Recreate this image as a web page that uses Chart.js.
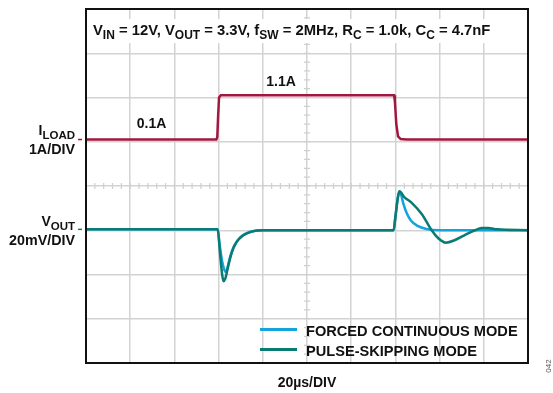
<!DOCTYPE html>
<html>
<head>
<meta charset="utf-8">
<script src="https://cdn.jsdelivr.net/npm/chart.js@4"></script>
<style>
  body { margin: 0; background: #fff; }
  canvas { display: block; }
</style>
</head>
<body>
<canvas id="scope" width="553" height="393"></canvas>
<script>
// time in divisions (20us/DIV), level in divisions from screen bottom
const loadTime = [0, 2.95, 2.97, 2.99, 3.01, 3.05, 6.97, 6.99, 7.02, 7.06, 7.12, 7.25, 10];
const loadLevel = [5.05, 5.05, 5.1, 5.6, 6.0, 6.05, 6.05, 5.9, 5.4, 5.12, 5.06, 5.05, 5.05];

const fcmTime = [0, 2.98, 3.02, 3.08, 3.13, 3.16, 3.2, 3.26, 3.35, 3.5, 3.7, 4.0, 6.96, 7.0, 7.05, 7.09, 7.13, 7.18, 7.25, 7.35, 7.5, 7.7, 8.0, 10];
const fcmLevel = [3.02, 3.02, 2.7, 2.3, 2.1, 2.06, 2.15, 2.4, 2.65, 2.85, 2.96, 3.0, 3.0, 3.3, 3.7, 3.88, 3.8, 3.6, 3.4, 3.22, 3.1, 3.03, 3.0, 3.0];

const psmTime = [0, 2.98, 3.03, 3.08, 3.11, 3.15, 3.22, 3.3, 3.4, 3.55, 3.75, 4.0, 6.96, 7.0, 7.05, 7.09, 7.2, 7.37, 7.6, 7.82, 7.97, 8.14, 8.35, 8.57, 8.8, 8.95, 9.1, 9.3, 10];
const psmLevel = [3.02, 3.02, 2.5, 2.0, 1.85, 1.9, 2.2, 2.5, 2.72, 2.88, 2.97, 3.0, 3.0, 3.3, 3.7, 3.88, 3.75, 3.62, 3.36, 3.0, 2.82, 2.72, 2.78, 2.89, 3.0, 3.05, 3.05, 3.02, 3.0];

const seriesNames = ["FORCED CONTINUOUS MODE", "PULSE-SKIPPING MODE"];
const loadColor = "#A2173F";
const fcmColor = "#12A4DB";
const psmColor = "#0A7B74";

const toPoints = (xs, ys) => xs.map((x, i) => ({ x: x, y: ys[i] }));

const BOLD = "Liberation Sans, Arial, sans-serif";

// draws text with subscripts: parts = [[text, isSub], ...]; returns width
function subText(c, parts, x, y, align, size, subSize) {
  size = size || 14;
  subSize = subSize || 11;
  let total = 0;
  parts.forEach(p => {
    c.font = "bold " + (p[1] ? subSize : size) + "px " + BOLD;
    total += c.measureText(p[0]).width;
  });
  let cx = align === "right" ? x - total : x;
  c.textAlign = "left";
  parts.forEach(p => {
    c.font = "bold " + (p[1] ? subSize : size) + "px " + BOLD;
    c.fillText(p[0], cx, p[1] ? y + 4 : y);
    cx += c.measureText(p[0]).width;
  });
  return total;
}

function textWidth(c, parts, size, subSize) {
  let total = 0;
  parts.forEach(p => {
    c.font = "bold " + (p[1] ? subSize : size) + "px " + BOLD;
    total += c.measureText(p[0]).width;
  });
  return total;
}

const titleParts = [["V", 0], ["IN", 1], [" = 12V, V", 0], ["OUT", 1], [" = 3.3V, f", 0], ["SW", 1],
  [" = 2MHz, R", 0], ["C", 1], [" = 1.0k, C", 0], ["C", 1], [" = 4.7nF", 0]];

const overlay = {
  id: "overlay",
  beforeDatasetsDraw(chart) {
    const c = chart.ctx;
    const a = chart.chartArea;
    const xs = chart.scales.x, ys = chart.scales.y;
    const cx = xs.getPixelForValue(5), cy = ys.getPixelForValue(4);
    c.save();
    c.strokeStyle = "#cfcfcf";
    c.lineWidth = 1.2;
    c.beginPath();
    for (let v = 0; v <= 10; v += 0.2) {
      const px = xs.getPixelForValue(v);
      c.moveTo(px, cy - 3); c.lineTo(px, cy + 3);
    }
    for (let v = 0; v <= 8; v += 0.2) {
      const py = ys.getPixelForValue(v);
      c.moveTo(cx - 3, py); c.lineTo(cx + 3, py);
    }
    c.stroke();
    // white band behind the title
    const tw = textWidth(c, titleParts, 14.8, 12);
    c.fillStyle = "#fff";
    c.fillRect(a.left + 5, a.top + 10, tw + 4, 24);
    c.restore();
  },
  afterDraw(chart) {
    const c = chart.ctx;
    const a = chart.chartArea;
    const xs = chart.scales.x, ys = chart.scales.y;
    c.save();
    // frame
    c.strokeStyle = "#111";
    c.lineWidth = 2;
    c.strokeRect(a.left, a.top, a.right - a.left, a.bottom - a.top);

    c.fillStyle = "#111";
    c.textBaseline = "alphabetic";
    subText(c, titleParts, a.left + 7, a.top + 26, "left", 14.8, 12);

    // channel labels
    subText(c, [["I", 0], ["LOAD", 1]], 75, 134.5, "right", 14, 11.5);
    subText(c, [["1A/DIV", 0]], 75, 153.5, "right", 14.3);
    subText(c, [["V", 0], ["OUT", 1]], 75, 226, "right", 14, 11.5);
    subText(c, [["20mV/DIV", 0]], 75, 245, "right", 14.3);

    // channel ground markers
    c.lineWidth = 1.5;
    c.strokeStyle = loadColor;
    c.beginPath();
    c.moveTo(78, ys.getPixelForValue(loadLevel[0])); c.lineTo(82, ys.getPixelForValue(loadLevel[0]));
    c.stroke();
    c.strokeStyle = psmColor;
    c.beginPath();
    c.moveTo(78, ys.getPixelForValue(psmLevel[0])); c.lineTo(82, ys.getPixelForValue(psmLevel[0]));
    c.stroke();

    // level annotations
    subText(c, [["0.1A", 0]], xs.getPixelForValue(1.15), ys.getPixelForValue(5.3));
    subText(c, [["1.1A", 0]], xs.getPixelForValue(4.08), ys.getPixelForValue(6.27));

    // legend
    const colors = [fcmColor, psmColor];
    seriesNames.forEach((name, i) => {
      const ly = 329.5 + i * 20;
      c.strokeStyle = colors[i];
      c.lineWidth = 3;
      c.beginPath();
      c.moveTo(260, ly); c.lineTo(297, ly);
      c.stroke();
      c.fillStyle = "#111";
      subText(c, [[name, 0]], 306, ly + 6.5, "left", 14.6);
    });

    // time base
    c.fillStyle = "#111";
    c.font = "bold 14px " + BOLD;
    c.textAlign = "center";
    c.fillText("20\u00b5s/DIV", (a.left + a.right) / 2, 387);

    // figure id
    c.translate(551, 366);
    c.rotate(-Math.PI / 2);
    c.font = "8px " + BOLD;
    c.fillStyle = "#555";
    c.textAlign = "center";
    c.fillText("042", 0, 0);
    c.restore();
  }
};

const ctx = document.getElementById("scope").getContext("2d");
const scopeChart = new Chart(ctx, {
  type: "line",
  data: {
    datasets: [
      {
        label: "ILOAD",
        data: toPoints(loadTime, loadLevel),
        borderColor: loadColor,
        borderWidth: 2.5,
        tension: 0,
        order: 3
      },
      {
        label: seriesNames[0],
        data: toPoints(fcmTime, fcmLevel),
        borderColor: fcmColor,
        borderWidth: 2.5,
        cubicInterpolationMode: "monotone",
        order: 2
      },
      {
        label: seriesNames[1],
        data: toPoints(psmTime, psmLevel),
        borderColor: psmColor,
        borderWidth: 2.5,
        cubicInterpolationMode: "monotone",
        order: 1
      }
    ]
  },
  options: {
    responsive: false,
    animation: false,
    layout: { padding: { left: 86, top: 9, right: 25, bottom: 30 } },
    elements: { point: { radius: 0 } },
    plugins: {
      legend: { display: false },
      tooltip: { enabled: false }
    },
    scales: {
      x: {
        type: "linear",
        min: 0,
        max: 10,
        ticks: { display: false, stepSize: 1 },
        grid: { color: "#d3d3d3", lineWidth: 1.5, drawTicks: false },
        border: { display: false }
      },
      y: {
        type: "linear",
        min: 0,
        max: 8,
        ticks: { display: false, stepSize: 1 },
        grid: { color: "#d3d3d3", lineWidth: 1.5, drawTicks: false },
        border: { display: false }
      }
    }
  },
  plugins: [overlay]
});
</script>
</body>
</html>
